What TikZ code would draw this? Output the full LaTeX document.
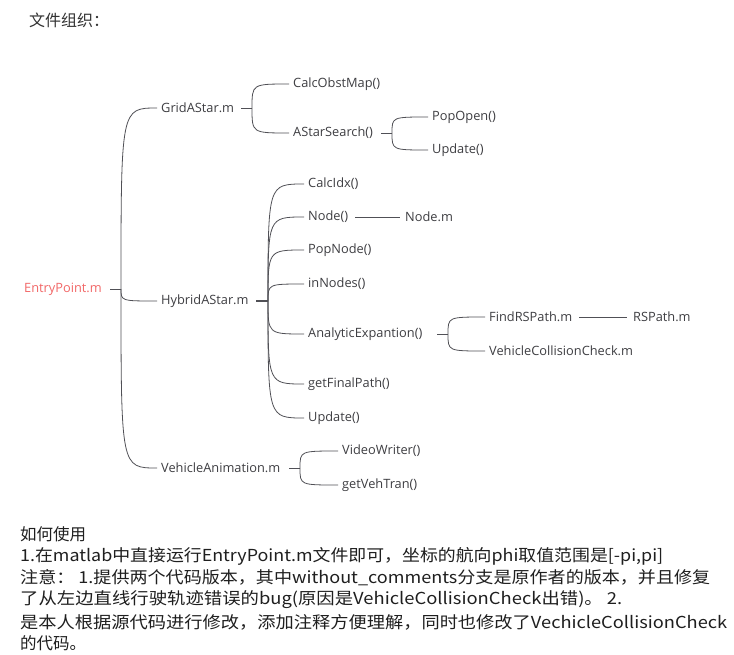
\documentclass[tikz,border=0pt]{standalone}
\usepackage{fontspec}
\setmainfont{Open Sans}
\newfontfamily\cjk{Noto Sans CJK SC}
\definecolor{txt}{RGB}{62,62,66}
\definecolor{ln}{RGB}{80,80,86}
\definecolor{red1}{RGB}{242,104,104}
\tikzset{
  lbl/.style={anchor=west, inner xsep=0pt, inner ysep=1pt, text=txt, font=\fontsize{12.8}{14}\selectfont},
  conn/.style={draw=ln, line width=0.8pt},
  para/.style={anchor=west, inner sep=0pt, text=black!88, font=\cjk\fontsize{16.5}{18}\selectfont}
}
\newcommand{\branch}[2]{\draw[conn] (#1) .. controls (#1 |- #2) .. (#2);}
\begin{document}
\begin{tikzpicture}[x=1pt,y=-1pt]
\useasboundingbox[fill=white] (0,0) rectangle (734,654);
% title
\node[para, font=\cjk\fontsize{16}{18}\selectfont, text=black!80] (title) at (29,20) {文件组织：};
% tree nodes
\node[lbl, text=red1] (ep) at (24,289) {EntryPoint.m};
\node[lbl] (grid) at (161,108) {GridAStar.m};
\node[lbl] (calcobst) at (293,84) {CalcObstMap()};
\node[lbl] (astar) at (293,133) {AStarSearch()};
\node[lbl] (popopen) at (432,117) {PopOpen()};
\node[lbl] (upd1) at (432,150) {Update()};
\node[lbl] (hyb) at (161,301) {HybridAStar.m};
\node[lbl] (calcidx) at (308,184) {CalcIdx()};
\node[lbl] (nodef) at (308,217) {Node()};
\node[lbl] (nodem) at (405,217) {Node.m};
\node[lbl] (popnode) at (308,250) {PopNode()};
\node[lbl] (innodes) at (308,284) {inNodes()};
\node[lbl] (analytic) at (308,334) {AnalyticExpantion()};
\node[lbl] (findrs) at (489,317) {FindRSPath.m};
\node[lbl] (rspath) at (633,317) {RSPath.m};
\node[lbl] (vcc) at (489,351) {VehicleCollisionCheck.m};
\node[lbl] (getfinal) at (308,384) {getFinalPath()};
\node[lbl] (upd2) at (308,418) {Update()};
\node[lbl] (vanim) at (161,468) {VehicleAnimation.m};
\node[lbl] (vwriter) at (342,451) {VideoWriter()};
\node[lbl] (getveh) at (342,485) {getVehTran()};
% junctions
\coordinate (jE) at (121,289);
\coordinate (jG) at (252,108);
\coordinate (jA) at (392,133);
\coordinate (jH) at (268,301);
\coordinate (jX) at (448,334);
\coordinate (jV) at (300,468);
% child end points
\foreach \n in {grid,hyb,vanim,calcobst,astar,popopen,upd1,calcidx,nodef,popnode,innodes,analytic,getfinal,upd2,findrs,vcc,vwriter,getveh}
  \coordinate (in-\n) at ([xshift=-4pt]\n.west);
% stubs
\draw[conn] ([xshift=-11pt]jE) -- (jE);
\draw[conn] ([xshift=-11pt]jG) -- (jG);
\draw[conn] ([xshift=-11pt]jA) -- (jA);
\draw[conn, line width=1.5pt] ([xshift=-12pt]jH) -- (jH);
\draw[conn] ([xshift=-11pt]jX) -- (jX);
\draw[conn] ([xshift=-11pt]jV) -- (jV);
\draw[conn] ([xshift=7pt]nodef.east) -- ([xshift=-5pt]nodem.west);
\draw[conn] ([xshift=7pt]findrs.east) -- ([xshift=-6pt]rspath.west);
% branches
\branch{jE}{in-grid}
\branch{jE}{in-hyb}
\branch{jE}{in-vanim}
\branch{jG}{in-calcobst}
\branch{jG}{in-astar}
\branch{jA}{in-popopen}
\branch{jA}{in-upd1}
\branch{jH}{in-calcidx}
\branch{jH}{in-nodef}
\branch{jH}{in-popnode}
\branch{jH}{in-innodes}
\branch{jH}{in-analytic}
\branch{jH}{in-getfinal}
\branch{jH}{in-upd2}
\branch{jX}{in-findrs}
\branch{jX}{in-vcc}
\branch{jV}{in-vwriter}
\branch{jV}{in-getveh}
% paragraph
\node[para] (p1) at (20,534) {如何使用};
\node[para] (p2) at (20,556) {\resizebox{643pt}{\height}{1.在matlab中直接运行EntryPoint.m文件即可，坐标的航向phi取值范围是[-pi,pi]}};
\node[para] (p3) at (20,578) {\resizebox{690pt}{\height}{注意：\ 1.提供两个代码版本，其中without\_comments分支是原作者的版本，并且修复}};
\node[para] (p4) at (20,600) {\resizebox{602pt}{\height}{了从左边直线行驶轨迹错误的bug(原因是VehicleCollisionCheck出错)。 2.}};
\node[para] (p5) at (20,622) {\resizebox{707pt}{\height}{是本人根据源代码进行修改，添加注释方便理解，同时也修改了VechicleCollisionCheck}};
\node[para] (p6) at (20,643) {的代码。};
\end{tikzpicture}
\end{document}
